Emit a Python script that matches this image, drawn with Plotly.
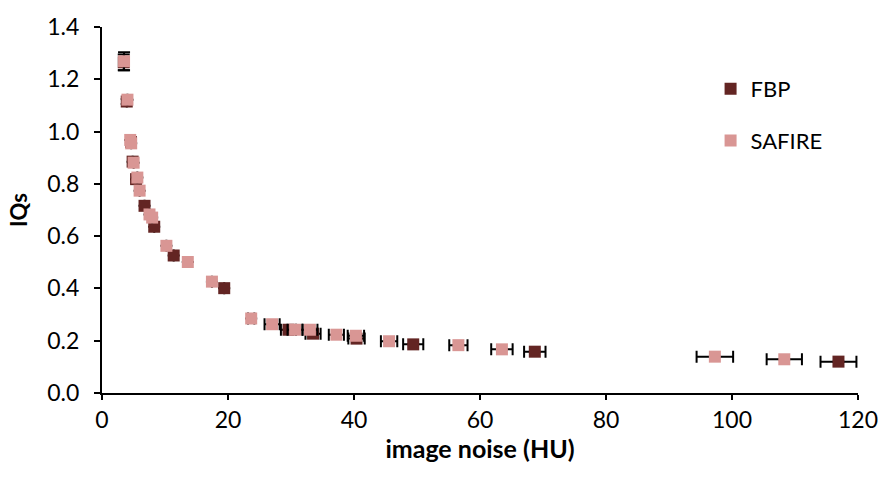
import plotly.graph_objects as go

# FBP series
fbp_x = [3.45, 3.93, 4.6, 4.86, 5.41, 6.75, 8.29, 11.38, 19.4, 29.6, 33.5, 40.4, 49.4, 68.7, 116.9]
fbp_y = [1.265, 1.115, 0.96, 0.885, 0.818, 0.716, 0.636, 0.526, 0.401, 0.242, 0.227, 0.208, 0.186, 0.158, 0.120]
fbp_xerr = [0, 0, 0, 0, 0, 0, 0, 0, 0, 1.2, 1.2, 1.3, 1.6, 1.7, 2.85]
fbp_yerr = [0.03, 0.01, 0, 0, 0, 0, 0, 0, 0, 0, 0, 0, 0, 0, 0]

# SAFIRE series
saf_x = [3.50, 4.04, 4.48, 4.63, 5.02, 5.61, 5.97, 7.54, 7.96, 10.22, 13.62, 17.45, 23.68,
         27.0, 30.65, 33.0, 37.2, 40.3, 45.57, 56.57, 63.48, 97.28, 108.3]
saf_y = [1.269, 1.122, 0.968, 0.955, 0.881, 0.824, 0.774, 0.683, 0.671, 0.563, 0.501, 0.426, 0.285,
         0.263, 0.242, 0.242, 0.223, 0.219, 0.198, 0.183, 0.167, 0.139, 0.129]
saf_xerr = [0, 0, 0, 0, 0, 0, 0, 0, 0, 0, 0, 0, 0.5,
            1.2, 1.2, 1.2, 1.2, 1.3, 1.3, 1.45, 1.7, 2.9, 2.8]
saf_yerr = [0.034, 0, 0, 0, 0, 0, 0, 0, 0, 0, 0, 0, 0,
            0, 0, 0, 0, 0, 0, 0, 0, 0, 0]

x_ticks = [0, 20, 40, 60, 80, 100, 120]
y_ticks = [0.0, 0.2, 0.4, 0.6, 0.8, 1.0, 1.2, 1.4]

FONT = "Lato, 'Open Sans', sans-serif"
err_style = dict(type="data", color="black", thickness=2, width=6)

fig = go.Figure()
fig.add_trace(go.Scatter(
    x=fbp_x, y=fbp_y, mode="markers", name="FBP", legendgroup="a",
    marker=dict(symbol="square", size=12, color="#632523", line=dict(width=0)),
    error_x=dict(array=fbp_xerr, **err_style),
    error_y=dict(array=fbp_yerr, **err_style),
))
fig.add_trace(go.Scatter(
    x=saf_x, y=saf_y, mode="markers", name="SAFIRE", legendgroup="b",
    marker=dict(symbol="square", size=12, color="#D99694", line=dict(width=0)),
    error_x=dict(array=saf_xerr, **err_style),
    error_y=dict(array=saf_yerr, **err_style),
))

fig.update_layout(
    width=890, height=483,
    margin=dict(l=102, r=24, t=20, b=90),
    paper_bgcolor="white", plot_bgcolor="white",
    font=dict(family=FONT, size=22, color="black"),
    legend=dict(x=0.805, y=0.888, xanchor="left", yanchor="top",
                tracegroupgap=20, font=dict(size=22),
                bgcolor="rgba(0,0,0,0)"),
    xaxis=dict(
        range=[0, 120], tickvals=x_ticks, ticktext=[str(v) for v in x_ticks],
        showgrid=False, zeroline=False, showline=True, linecolor="black", linewidth=2,
        ticks="outside", ticklen=5, tickwidth=1.5, tickcolor="black",
        tickfont=dict(size=23),
        title=dict(text="<b>image noise (HU)</b>", font=dict(size=25), standoff=8),
    ),
    yaxis=dict(
        range=[0, 1.4], tickvals=y_ticks, ticktext=[f"{v:.1f}" for v in y_ticks],
        showgrid=False, zeroline=False, showline=True, linecolor="black", linewidth=2,
        ticks="outside", ticklen=6, tickwidth=1.5, tickcolor="black",
        tickfont=dict(size=23), ticklabelstandoff=10,
        title=dict(text="<b>IQs</b>", font=dict(size=22), standoff=14),
    ),
)

fig.write_html("out.html")
